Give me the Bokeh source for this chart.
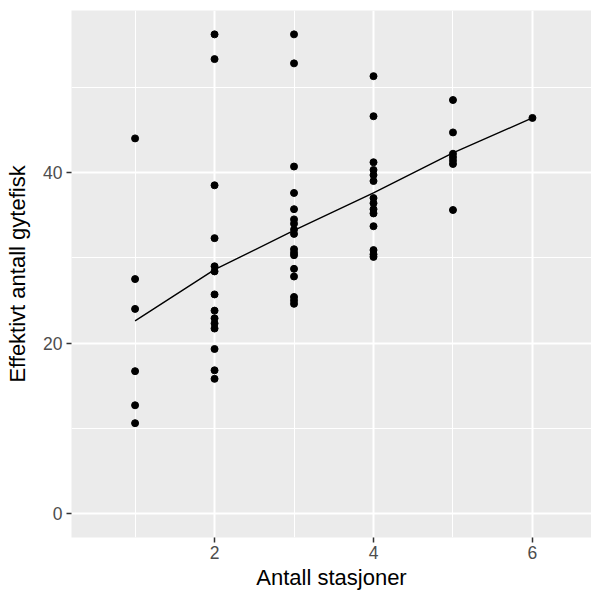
from bokeh.plotting import figure
from bokeh.models import FixedTicker, Range1d
from bokeh.embed import file_html
from bokeh.resources import INLINE

# Effective number of spawners by number of stations
n1 = [44.0, 27.5, 24.0, 16.7, 12.7, 10.6]
n2 = [56.2, 53.3, 38.5, 32.3, 29.0, 28.4, 25.7, 23.8, 22.9, 22.3, 21.7, 19.3, 16.8, 15.8]
n3 = [56.2, 52.8, 40.7, 37.6, 35.7, 34.5, 34.0, 33.3, 32.8, 31.0, 30.6, 30.3, 28.7, 27.8, 25.4, 25.0, 24.6]
n4 = [51.3, 46.6, 41.2, 40.3, 39.7, 39.0, 37.0, 36.4, 35.7, 35.2, 33.7, 30.9, 30.4, 30.1]
n5 = [48.5, 44.7, 42.2, 41.8, 41.4, 41.0, 35.6]
n6 = [46.4]
groups = [n1, n2, n3, n4, n5, n6]

trend_x = [1, 2, 3, 4, 5, 6]
trend_y = [22.6, 28.6, 33.2, 37.6, 42.3, 46.4]

x_ticks = [2, 4, 6]
y_ticks = [0, 20, 40]

xs, ys = [], []
for i, g in enumerate(groups):
    xs += [i + 1] * len(g)
    ys += g

p = figure(width=591, height=592, output_backend="svg", toolbar_location=None,
           x_range=Range1d(0.2, 6.743), y_range=Range1d(-2.81, 59.0),
           min_border_left=71, min_border_top=10, min_border_right=0, min_border_bottom=55)

p.background_fill_color = "#EBEBEB"
p.border_fill_color = "white"
p.outline_line_color = None

p.xaxis.ticker = FixedTicker(ticks=x_ticks, minor_ticks=[1, 3, 5])
p.yaxis.ticker = FixedTicker(ticks=y_ticks, minor_ticks=[10, 30, 50])

for g in (p.xgrid, p.ygrid):
    g.grid_line_color = "white"
    g.grid_line_width = 2
    g.minor_grid_line_color = "white"
    g.minor_grid_line_width = 1

for ax in (p.xaxis, p.yaxis):
    ax.axis_line_color = None
    ax.major_tick_line_color = "#333333"
    ax.major_tick_line_width = 1.5
    ax.major_tick_out = 5
    ax.major_tick_in = 0
    ax.minor_tick_line_color = None
    ax.major_label_text_font = "Liberation Sans"
    ax.major_label_text_font_size = "17.5px"
    ax.major_label_text_color = "#4D4D4D"
    ax.axis_label_text_font = "Liberation Sans"
    ax.axis_label_text_font_size = "22px"
    ax.axis_label_text_font_style = "normal"
    ax.axis_label_text_color = "black"

p.xaxis.axis_label = "Antall stasjoner"
p.yaxis.axis_label = "Effektivt antall gytefisk"
p.xaxis.major_label_standoff = 3
p.yaxis.major_label_standoff = 4
p.xaxis.axis_label_standoff = 3
p.yaxis.axis_label_standoff = 10

p.scatter(xs, ys, size=7, color="black")
p.line(trend_x, trend_y, line_color="black", line_width=1.4)

open("out.html", "w").write(file_html(p, INLINE))
